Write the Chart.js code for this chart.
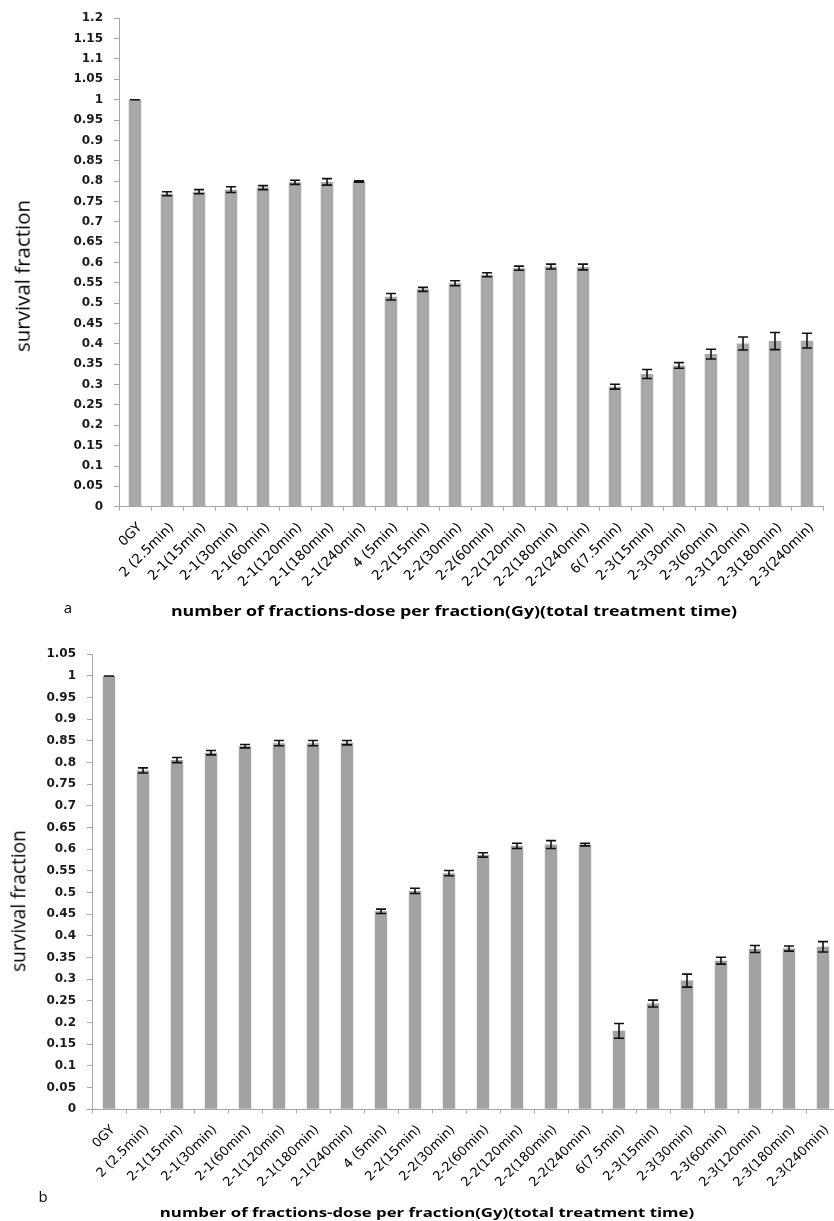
<!DOCTYPE html>
<html><head><meta charset="utf-8">
<script src="https://cdn.jsdelivr.net/npm/chart.js@4.4.0/dist/chart.umd.min.js"></script>
<style>
html,body{margin:0;padding:0;background:#fff;}
body{width:834px;height:1221px;position:relative;overflow:hidden;}
.box{position:absolute;left:0;}
.txt{position:absolute;white-space:nowrap;color:#000;transform-origin:0 0;line-height:1.2;}
</style></head><body>
<div class="box" style="top:0;width:834px;height:630px"><canvas id="ca"></canvas></div>
<div class="box" style="top:630px;width:840px;height:591px"><canvas id="cb"></canvas></div>
<div class="txt" id="yTitleA" style="font-family:'Open Sans';font-size:20.5px;">survival fraction</div>
<div class="txt" id="xTitleA" style="font-family:'Open Sans';font-weight:bold;font-size:13.5px;">number of fractions-dose per fraction(Gy)(total treatment time)</div>
<div class="txt" id="tagA" style="font-family:'Open Sans';font-size:15px;">a</div>
<div class="txt" id="yTitleB" style="font-family:'Open Sans';font-size:19.5px;">survival fraction</div>
<div class="txt" id="xTitleB" style="font-family:'Open Sans';font-weight:bold;font-size:13px;">number of fractions-dose per fraction(Gy)(total treatment time)</div>
<div class="txt" id="tagB" style="font-family:'Open Sans';font-size:15px;">b</div>
<script>
// ---------- data ----------
const categories = ['0GY','2 (2.5min)','2-1(15min)','2-1(30min)','2-1(60min)','2-1(120min)','2-1(180min)','2-1(240min)',
  '4 (5min)','2-2(15min)','2-2(30min)','2-2(60min)','2-2(120min)','2-2(180min)','2-2(240min)',
  '6(7.5min)','2-3(15min)','2-3(30min)','2-3(60min)','2-3(120min)','2-3(180min)','2-3(240min)'];

const survivalA = [1.0, 0.769, 0.774, 0.779, 0.784, 0.797, 0.798, 0.799, 0.516, 0.534, 0.549, 0.570, 0.586, 0.590, 0.589,
  0.295, 0.326, 0.347, 0.375, 0.401, 0.407, 0.408];
const errorA = [0, 0.005, 0.005, 0.007, 0.005, 0.005, 0.008, 0.002, 0.008, 0.005, 0.006, 0.005, 0.005, 0.006, 0.007,
  0.006, 0.011, 0.007, 0.012, 0.016, 0.021, 0.018];

const survivalB = [1.0, 0.782, 0.806, 0.823, 0.838, 0.845, 0.845, 0.846, 0.457, 0.504, 0.545, 0.587, 0.608, 0.611, 0.611,
  0.181, 0.244, 0.297, 0.343, 0.370, 0.371, 0.375];
const errorB = [0, 0.006, 0.006, 0.005, 0.004, 0.006, 0.006, 0.005, 0.005, 0.006, 0.006, 0.005, 0.006, 0.009, 0.003,
  0.017, 0.008, 0.015, 0.008, 0.008, 0.006, 0.012];

const yTickValuesA = [0,0.05,0.1,0.15,0.2,0.25,0.3,0.35,0.4,0.45,0.5,0.55,0.6,0.65,0.7,0.75,0.8,0.85,0.9,0.95,1,1.05,1.1,1.15,1.2];
const yTickLabelsA = ['0','0.05','0.1','0.15','0.2','0.25','0.3','0.35','0.4','0.45','0.5','0.55','0.6','0.65','0.7','0.75','0.8','0.85','0.9','0.95','1','1.05','1.1','1.15','1.2'];
const yTickValuesB = [0,0.05,0.1,0.15,0.2,0.25,0.3,0.35,0.4,0.45,0.5,0.55,0.6,0.65,0.7,0.75,0.8,0.85,0.9,0.95,1,1.05];
const yTickLabelsB = ['0','0.05','0.1','0.15','0.2','0.25','0.3','0.35','0.4','0.45','0.5','0.55','0.6','0.65','0.7','0.75','0.8','0.85','0.9','0.95','1','1.05'];

// ---------- error bar plugin ----------
const errorBarPlugin = {
  id: 'errorBars',
  afterDatasetsDraw(chart, args, opts) {
    const ctx = chart.ctx, ys = chart.scales.y;
    chart.data.datasets.forEach((ds, di) => {
      if (!ds.errors) return;
      const meta = chart.getDatasetMeta(di);
      meta.data.forEach((bar, i) => {
        const v = ds.data[i], e = ds.errors[i];
        const x = bar.x;
        const yT = ys.getPixelForValue(v + e), yB = ys.getPixelForValue(v - e);
        ctx.save();
        ctx.strokeStyle = opts.color; ctx.lineWidth = opts.width;
        ctx.beginPath();
        ctx.moveTo(x, yT); ctx.lineTo(x, yB);
        ctx.moveTo(x - opts.cap, yT); ctx.lineTo(x + opts.cap, yT);
        ctx.moveTo(x - opts.cap, yB); ctx.lineTo(x + opts.cap, yB);
        ctx.stroke();
        ctx.restore();
      });
    });
  }
};

function makeChart(id, values, errors, tickVals, tickLabels, st) {
  return new Chart(document.getElementById(id), {
    type: 'bar',
    data: {
      labels: categories,
      datasets: [{
        data: values,
        errors: errors,
        backgroundColor: st.barColor,
        borderWidth: 0,
        barPercentage: st.barPct,
        categoryPercentage: 1.0
      }]
    },
    plugins: [errorBarPlugin],
    options: {
      responsive: true,
      maintainAspectRatio: false,
      animation: false,
      layout: { padding: { top: st.padTop, right: st.padRight, left: 0, bottom: 0 } },
      plugins: {
        legend: { display: false },
        tooltip: { enabled: false },
        errorBars: { color: '#111', width: 1.6, cap: 5 }
      },
      scales: {
        x: {
          grid: { display: true, drawOnChartArea: false, drawTicks: true, tickLength: 4, color: '#a6a6a6', offset: true },
          border: { display: true, color: '#a6a6a6', width: 1 },
          ticks: {
            autoSkip: false, minRotation: 45, maxRotation: 45,
            padding: st.xPad, labelOffset: st.xLabelOffset,
            color: '#000', font: { family: 'DejaVu Sans', size: st.xFont }
          },
          afterFit: s => { s.height = st.xHeight; s.paddingLeft = 0; s.paddingRight = 0; }
        },
        y: {
          min: tickVals[0], max: tickVals[tickVals.length - 1],
          grid: { display: true, drawOnChartArea: false, drawTicks: true, tickLength: 5, color: '#a6a6a6' },
          border: { display: true, color: '#a6a6a6', width: 1 },
          afterBuildTicks: s => { s.ticks = tickVals.map(v => ({ value: v })); },
          ticks: {
            padding: 11,
            color: '#1a1a1a',
            font: { family: 'DejaVu Sans', size: 12, weight: 'bold' },
            callback: (v, i) => tickLabels[i]
          },
          afterFit: s => { s.width = st.yWidth; }
        }
      }
    }
  });
}

makeChart('ca', survivalA, errorA, yTickValuesA, yTickLabelsA,
  { barColor: '#a8a8a8', barPct: 0.39, padTop: 18.3, padRight: 11, xHeight: 123.3, yWidth: 119, xFont: 13.5, xPad: 9, xLabelOffset: 5 });
makeChart('cb', survivalB, errorB, yTickValuesB, yTickLabelsB,
  { barColor: '#a2a2a2', barPct: 0.365, padTop: 24.3, padRight: 0, xHeight: 111.7, yWidth: 92, xFont: 13, xPad: 9, xLabelOffset: 4 });

// ---------- html text placement ----------
function place(id, cx, cy, targetW, rotate) {
  const el = document.getElementById(id);
  el.style.left = cx + 'px';
  el.style.top = cy + 'px';
  const w = el.offsetWidth;
  const s = targetW ? targetW / w : 1;
  el.style.transform = (rotate ? 'rotate(-90deg) ' : '') + 'scaleX(' + s + ') translate(-50%,-50%)';
}
function layoutText() {
  place('yTitleA', 22, 276, 152, true);
  place('xTitleA', 454, 611, 566, false);
  place('tagA', 68, 607, 0, false);
  place('yTitleB', 18, 901, 142, true);
  place('xTitleB', 427, 1213, 534, false);
  place('tagB', 43, 1196, 0, false);
}
layoutText();
if (document.fonts && document.fonts.ready) document.fonts.ready.then(layoutText);
</script>
</body></html>
